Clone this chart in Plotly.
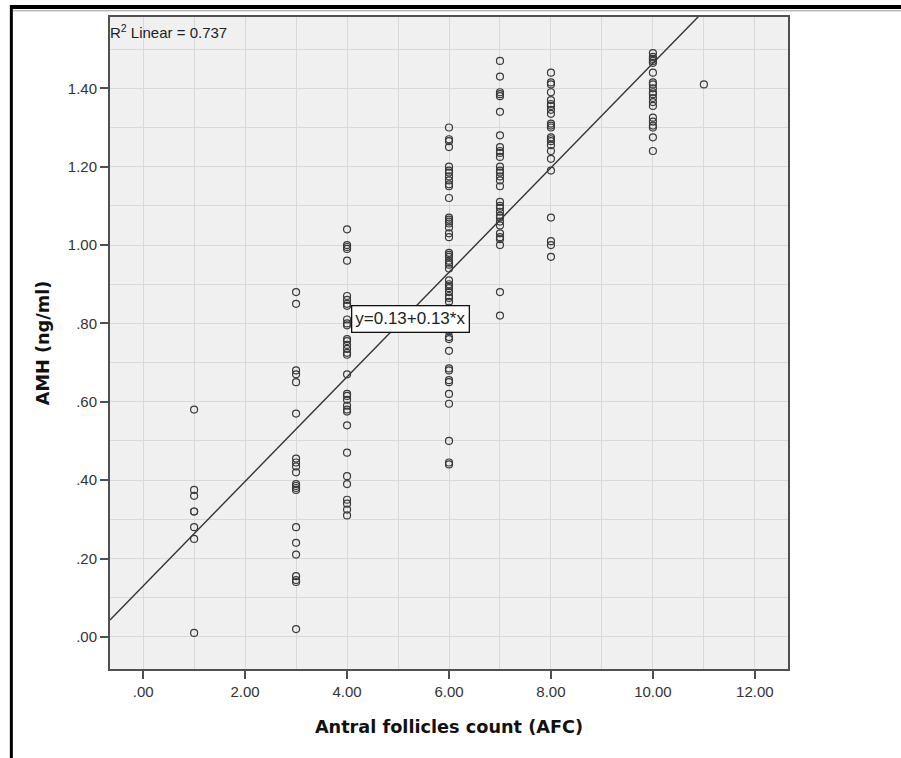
import plotly.graph_objects as go

# ---- data ----
afc_1_amh = [0.58, 0.375, 0.36, 0.32, 0.32, 0.28, 0.25, 0.01]
afc_3_amh = [0.88, 0.85, 0.68, 0.67, 0.65, 0.57, 0.455, 0.445, 0.435, 0.42,
             0.39, 0.385, 0.38, 0.375, 0.28, 0.24, 0.21, 0.155, 0.145, 0.14, 0.02]
afc_4_amh = [1.04, 1.00, 0.995, 0.99, 0.96, 0.87, 0.86, 0.85, 0.845, 0.81, 0.80,
             0.795, 0.76, 0.755, 0.745, 0.735, 0.725, 0.72, 0.67, 0.62, 0.615,
             0.605, 0.59, 0.58, 0.575, 0.54, 0.47, 0.41, 0.39, 0.35, 0.34, 0.325, 0.31]
afc_6_amh = [1.30, 1.27, 1.265, 1.25, 1.20, 1.19, 1.185, 1.175, 1.165, 1.155, 1.15,
             1.12, 1.07, 1.065, 1.06, 1.055, 1.045, 1.03, 1.02, 0.98, 0.975, 0.97,
             0.96, 0.955, 0.95, 0.94, 0.91, 0.90, 0.895, 0.89, 0.88, 0.87, 0.865,
             0.855, 0.84, 0.82, 0.80, 0.78, 0.765, 0.76, 0.73, 0.685, 0.68, 0.655,
             0.65, 0.62, 0.595, 0.50, 0.445, 0.44]
afc_7_amh = [1.47, 1.43, 1.39, 1.385, 1.38, 1.34, 1.28, 1.25, 1.24, 1.235, 1.225,
             1.20, 1.19, 1.185, 1.175, 1.165, 1.15, 1.11, 1.10, 1.095, 1.085, 1.075,
             1.07, 1.06, 1.05, 1.03, 1.02, 1.015, 1.00, 0.88, 0.82]
afc_8_amh = [1.44, 1.415, 1.41, 1.39, 1.37, 1.36, 1.355, 1.345, 1.335, 1.31, 1.305,
             1.30, 1.275, 1.27, 1.265, 1.255, 1.24, 1.22, 1.19, 1.07, 1.01, 1.00, 0.97]
afc_10_amh = [1.49, 1.48, 1.475, 1.47, 1.465, 1.44, 1.415, 1.41, 1.40, 1.39, 1.385,
              1.375, 1.365, 1.355, 1.325, 1.315, 1.305, 1.30, 1.275, 1.24]
afc_11_amh = [1.41]

afc_groups = {1: afc_1_amh, 3: afc_3_amh, 4: afc_4_amh, 6: afc_6_amh,
              7: afc_7_amh, 8: afc_8_amh, 10: afc_10_amh, 11: afc_11_amh}

fit_intercept = 0.13
fit_slope = 0.1334
r_squared = 0.737

x_tickvals = [0, 2, 4, 6, 8, 10, 12]
x_ticktext = [".00", "2.00", "4.00", "6.00", "8.00", "10.00", "12.00"]
y_tickvals = [0.0, 0.2, 0.4, 0.6, 0.8, 1.0, 1.2, 1.4]
y_ticktext = [".00", ".20", ".40", ".60", ".80", "1.00", "1.20", "1.40"]

x_range = [-0.65, 12.65]
y_range = [-0.082, 1.582]

# ---- build ----
xs, ys = [], []
for k, vals in afc_groups.items():
    xs += [k] * len(vals)
    ys += vals

fig = go.Figure()
fit_x = [x_range[0], x_range[1]]
fit_y = [fit_intercept + fit_slope * v for v in fit_x]
fig.add_trace(go.Scatter(x=fit_x, y=fit_y, mode="lines",
                         line=dict(color="#333333", width=1.4),
                         hoverinfo="skip", showlegend=False))
fig.add_trace(go.Scatter(x=xs, y=ys, mode="markers",
                         marker=dict(symbol="circle-open", size=7,
                                     color="#3a3a3a", line=dict(width=1.2)),
                         showlegend=False))

font_main = "Liberation Sans, Arial, sans-serif"
font_title = "DejaVu Sans, Verdana, sans-serif"
axis_common = dict(showline=True, linecolor="#505050", linewidth=2, mirror=True,
                   ticks="outside", ticklen=8, tickwidth=2, tickcolor="#505050",
                   gridcolor="#d9d9d9", gridwidth=1.3, zeroline=False,
                   tickfont=dict(family=font_main, size=15, color="#333333"))

fig.update_layout(
    width=901, height=758,
    margin=dict(l=110, r=113, t=17, b=89),
    paper_bgcolor="white", plot_bgcolor="#f0f0f0",
    font=dict(family=font_main, color="#222222"),
    xaxis=dict(range=x_range, tickvals=x_tickvals, ticktext=x_ticktext,
               minor=dict(dtick=1, tick0=0, showgrid=True, gridcolor="#d9d9d9",
                          gridwidth=1.3, ticks=""),
               title=dict(text="<b>Antral follicles count (AFC)</b>", standoff=22,
                          font=dict(family=font_title, size=17.7, color="#111111")),
               **axis_common),
    yaxis=dict(range=y_range, tickvals=y_tickvals, ticktext=y_ticktext,
               minor=dict(dtick=0.1, tick0=0, showgrid=True, gridcolor="#d9d9d9",
                          gridwidth=1.3, ticks=""),
               title=dict(text="<b>AMH (ng/ml)</b>", standoff=14,
                          font=dict(family=font_title, size=17.7, color="#111111")),
               **axis_common),
    annotations=[
        dict(text="R<sup>2</sup> Linear = " + f"{r_squared}", xref="paper", yref="paper",
             x=0.0, y=1.0, xanchor="left", yanchor="top", showarrow=False,
             xshift=-2, yshift=-3,
             font=dict(family=font_main, size=15, color="#222222")),
        dict(text=f"y={fit_intercept:.2f}+{fit_slope:.2f}*x", x=5.25, y=0.811,
             xref="x", yref="y", showarrow=False, bgcolor="white",
             bordercolor="#111111", borderwidth=1.3, borderpad=3,
             font=dict(family=font_main, size=17, color="#222222")),
    ],
    shapes=[
        dict(type="line", xref="paper", yref="paper",
             x0=-0.1475, x1=1.17, y0=1.0153, y1=1.0153,
             line=dict(color="black", width=4)),
        dict(type="line", xref="paper", yref="paper",
             x0=-0.1475, x1=1.17, y0=1.0095, y1=1.0095,
             line=dict(color="#999999", width=1)),
        dict(type="line", xref="paper", yref="paper",
             x0=-0.1455, x1=-0.1455, y0=1.018, y1=-0.14,
             line=dict(color="black", width=3)),
    ],
)

fig.write_html("out.html", config={"displayModeBar": False},
               post_script="document.body.style.margin='0';document.body.style.overflow='hidden';")
